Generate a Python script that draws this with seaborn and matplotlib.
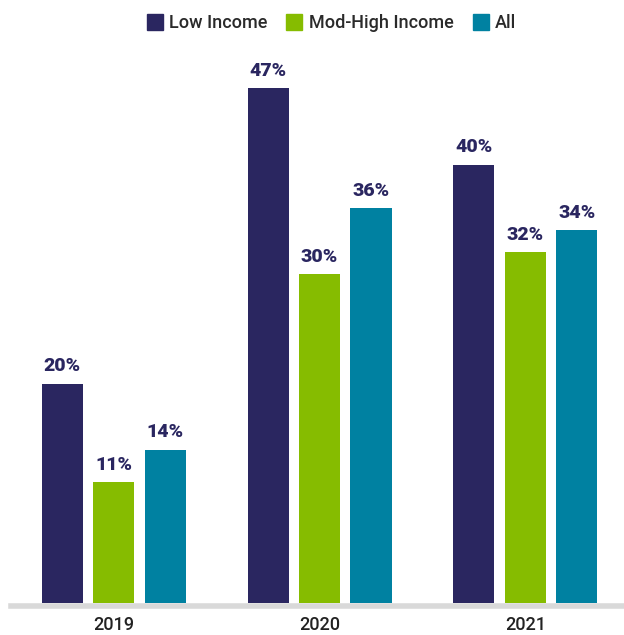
import matplotlib
matplotlib.use("Agg")
import matplotlib.pyplot as plt
import seaborn as sns
import pandas as pd
from matplotlib.lines import Line2D

years = ["2019", "2020", "2021"]
groups = ["Low Income", "Mod-High Income", "All"]
low_income = [20, 47, 40]
mod_high = [11, 30, 32]
all_vals = [14, 36, 34]
colors = ["#2a2660", "#86bc00", "#0081a1"]

rows = []
for i, y in enumerate(years):
    for g, vals in zip(groups, [low_income, mod_high, all_vals]):
        rows.append({"Year": y, "Group": g, "Value": vals[i]})
df = pd.DataFrame(rows)

sns.set_theme(style="white")
plt.rcParams["font.family"] = ["Roboto", "DejaVu Sans"]

W, H = 624, 635
fig = plt.figure(figsize=(W / 100, H / 100), dpi=100)
ax = fig.add_axes([11 / W, 1 - 603 / H, (624 - 11) / W, (603 - 55) / H])

sns.barplot(data=df, x="Year", y="Value", hue="Group", hue_order=groups,
            palette=colors, width=0.75, gap=0.2, dodge=True, ax=ax,
            legend=False, saturation=1, edgecolor="none", linewidth=0)

for cont, col in zip(ax.containers, colors):
    ax.bar_label(cont, labels=[f"{v:.0f}%" for v in cont.datavalues],
                 padding=6, fontsize=14, fontweight="heavy", color="#2a2660")

ax.set_xlim(-0.5, 2.48)
ax.set_ylim(0, 50)
ax.set_xlabel("")
ax.set_ylabel("")
ax.set_yticks([])
for s in ["top", "right", "left"]:
    ax.spines[s].set_visible(False)
ax.spines["bottom"].set_color("#d9d9d9")
ax.spines["bottom"].set_linewidth(4)
ax.spines["bottom"].set_position(("outward", 2.2))
ax.tick_params(axis="x", length=0, pad=7, labelsize=13, labelcolor="#222222")
for t in ax.get_xticklabels():
    t.set_fontweight("medium")

handles = [Line2D([0], [0], marker="s", linestyle="none", markersize=11,
                  markerfacecolor=c, markeredgecolor=c) for c in colors]
leg = fig.legend(handles, groups, loc="center", bbox_to_anchor=(331 / W, 1 - 23 / H),
                 ncol=3, frameon=False, fontsize=13, handletextpad=0.3,
                 columnspacing=1.0, handlelength=1.0)
for t in leg.get_texts():
    t.set_color("#2a2a2a")
    t.set_fontweight("medium")

fig.savefig("out.png", dpi=100)
